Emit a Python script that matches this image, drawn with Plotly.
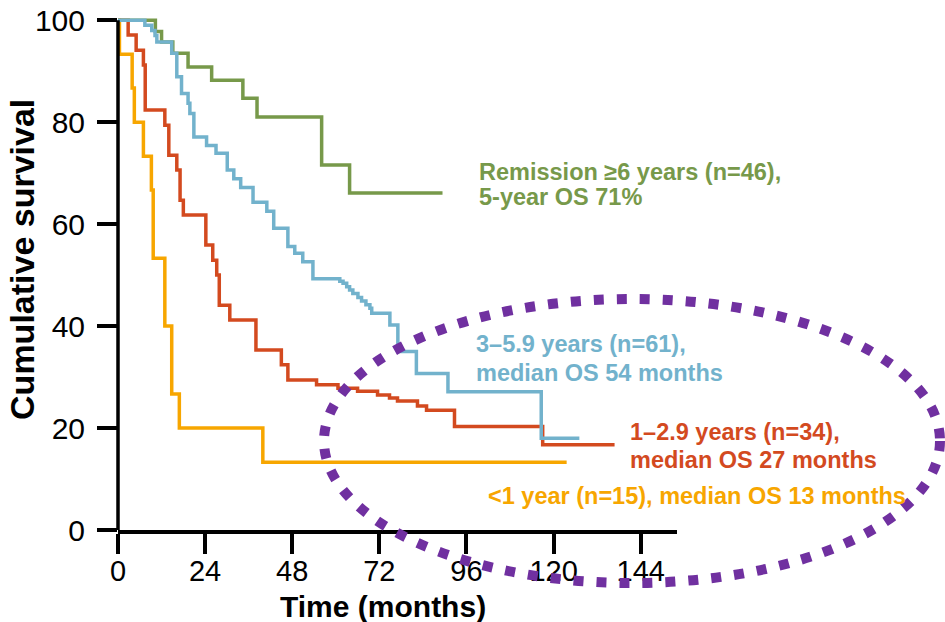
import plotly.graph_objects as go

# Kaplan-Meier overall survival by length of remission (months, % surviving)
months_lt1 = [0, 0.4, 3.9, 4.5, 7.0, 9.2, 9.7, 12.9, 14.8, 16.9, 39.9, 123.6]
surv_lt1 = [100, 93.3, 86.7, 80.0, 73.3, 66.7, 53.3, 40.0, 26.7, 20.0, 13.3, 13.3]

months_1to3 = [0, 2.8, 5.0, 7.0, 7.5, 12.9, 14.0, 16.2, 17.1, 18.0, 24.2, 26.1, 27.2,
               27.9, 30.8, 38.0, 45.0, 46.8, 54.7, 60.6, 66.0, 71.5, 74.8, 77.0,
               82.5, 85.0, 92.7, 117.0, 136.8]
surv_1to3 = [100, 97.1, 94.1, 91.2, 82.4, 79.4, 73.5, 70.6, 64.7, 61.8, 55.9, 52.9, 50.0,
             44.1, 41.2, 35.3, 32.4, 29.4, 28.5, 27.8, 27.2, 26.5, 25.9, 25.3,
             24.3, 23.5, 20.3, 16.7, 16.7]

months_ge6 = [0, 10.3, 12.0, 15.1, 19.3, 25.8, 34.4, 38.3, 56.1, 63.8, 89.4]
surv_ge6 = [100, 97.8, 95.7, 93.5, 90.8, 88.2, 84.7, 81.0, 71.6, 66.1, 66.1]

months_3to6 = [0, 7.4, 9.3, 10.2, 10.7, 14.8, 16.2, 17.5, 19.3, 19.8, 20.9, 24.4, 27.0,
               30.1, 31.9, 33.8, 37.2, 41.0, 42.9, 46.8, 48.7, 50.9, 53.7, 61.1,
               62.0, 63.0, 63.8, 64.7, 66.1, 67.1, 68.3, 69.4, 69.9, 74.9, 77.1,
               82.2, 90.9, 116.6, 127.1]
surv_3to6 = [100, 99.0, 98.0, 97.0, 95.7, 93.5, 88.9, 85.6, 83.7, 81.7, 77.1, 75.4, 73.9,
             70.6, 68.9, 67.2, 64.3, 62.5, 59.2, 55.6, 54.3, 52.6, 49.3, 48.8,
             48.4, 47.7, 47.1, 46.4, 45.6, 44.9, 44.2, 43.5, 42.5, 40.2, 35.0,
             30.7, 27.1, 18.0, 18.0]

x_ticks = [0, 24, 48, 72, 96, 120, 144]
y_ticks = [0, 20, 40, 60, 80, 100]

ORANGE = "#f7a600"
RED = "#d34a1f"
GREEN = "#77994a"
BLUE = "#72b2cc"
PURPLE = "#7030a0"
FONT = "Liberation Sans"

series = [
    (months_lt1, surv_lt1, ORANGE),
    (months_1to3, surv_1to3, RED),
    (months_ge6, surv_ge6, GREEN),
    (months_3to6, surv_3to6, BLUE),
]

fig = go.Figure()
for t, s, c in series:
    fig.add_trace(go.Scatter(x=t, y=s, mode="lines",
                             line=dict(color=c, width=3.5, shape="hv"),
                             hoverinfo="skip"))

Y_MAX = 102
fig.update_layout(
    width=945, height=622,
    margin=dict(l=118, r=268, t=10, b=92),
    plot_bgcolor="white", paper_bgcolor="white",
    showlegend=False,
    font=dict(family=FONT, color="black"),
    xaxis=dict(range=[0, 154], tickvals=x_ticks, ticks="outside", ticklen=20,
               tickwidth=3.5, tickcolor="black", showline=True, linewidth=3.5,
               linecolor="black", showgrid=False, zeroline=False,
               automargin=False, ticklabelstandoff=-8,
               tickfont=dict(size=29, family=FONT, color="black")),
    yaxis=dict(range=[0, Y_MAX], tickvals=y_ticks, ticks="outside", ticklen=20,
               tickwidth=3.5, tickcolor="black", showline=False, showgrid=False,
               zeroline=False, ticklabelstandoff=6, automargin=False,
               tickfont=dict(size=30, family=FONT, color="black")),
)

# vertical axis line only up to 100 %
fig.add_shape(type="line", xref="paper", yref="paper", x0=0, x1=0,
              y0=0, y1=100 / Y_MAX, line=dict(color="black", width=3.5))

# axis titles
fig.add_annotation(text="Time (months)", xref="paper", yref="paper",
                   x=0.474, y=-0.148, xanchor="center", yanchor="middle",
                   showarrow=False,
                   font=dict(size=30, family=FONT, color="black", weight="bold"))
fig.add_annotation(text="Cumulative survival", xref="paper", yref="paper",
                   x=-0.172, y=0.521, xanchor="center", yanchor="middle",
                   textangle=-90, showarrow=False,
                   font=dict(size=34, family=FONT, color="black", weight="bold"))

# group labels
labels = [
    ("Remission ≥6 years (n=46),", 98.8, 70.3, GREEN),
    ("5-year OS 71%", 98.8, 65.4, GREEN),
    ("3–5.9 years (n=61),", 98.2, 36.4, BLUE),
    ("median OS 54 months", 98.2, 30.7, BLUE),
    ("1–2.9 years (n=34),", 140.4, 19.3, RED),
    ("median OS 27 months", 140.4, 13.8, RED),
    ("<1 year (n=15), median OS 13 months", 101.5, 6.7, ORANGE),
]
for txt, x, y, c in labels:
    fig.add_annotation(text=txt, x=x, y=y, xref="x", yref="y",
                       xanchor="left", yanchor="middle", showarrow=False,
                       font=dict(size=23.5, family=FONT, color=c, weight="bold"))

# dotted ellipse highlighting the late plateau region
fig.add_shape(type="circle", xref="paper", yref="paper", layer="above",
              x0=(324 - 118) / 559, x1=(940 - 118) / 559,
              y0=(530 - 583) / 520, y1=(530 - 299) / 520,
              line=dict(color=PURPLE, width=10, dash="10px,13px"))

fig.write_html("out.html")
